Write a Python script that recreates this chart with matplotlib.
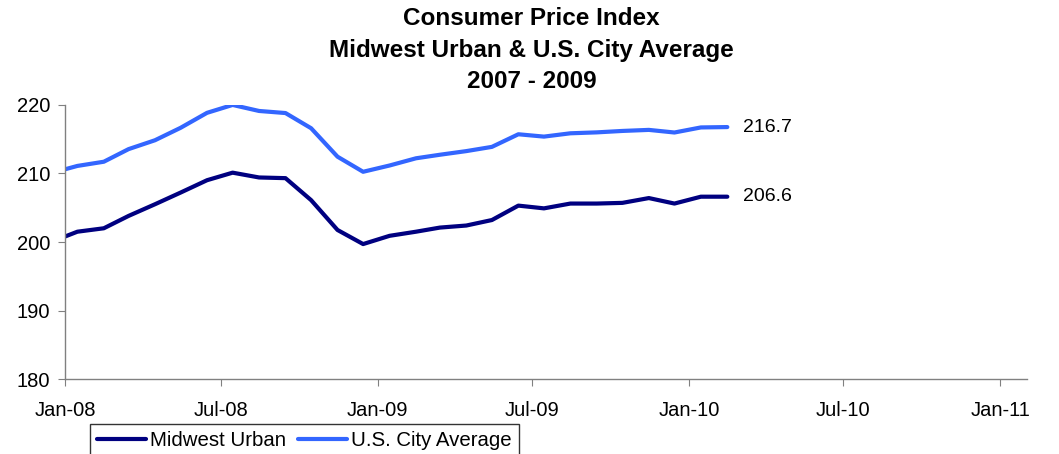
import matplotlib
matplotlib.use("Agg")
import matplotlib.pyplot as plt
import matplotlib.dates as mdates
import pandas as pd

plt.rcParams['font.family'] = ['Liberation Sans', 'DejaVu Sans']

# monthly CPI values, plotted at mid-month
months = ['2007-12',
          '2008-01', '2008-02', '2008-03', '2008-04', '2008-05', '2008-06',
          '2008-07', '2008-08', '2008-09', '2008-10', '2008-11', '2008-12',
          '2009-01', '2009-02', '2009-03', '2009-04', '2009-05', '2009-06',
          '2009-07', '2009-08', '2009-09', '2009-10', '2009-11', '2009-12',
          '2010-01', '2010-02']
midwest = [200.0,
           201.5, 202.0, 203.8, 205.5, 207.2, 209.0,
           210.1, 209.4, 209.3, 206.1, 201.75, 199.7,
           200.9, 201.5, 202.1, 202.4, 203.2, 205.3,
           204.9, 205.6, 205.6, 205.7, 206.4, 205.6,
           206.6, 206.6]
us_city = [210.036,
           211.080, 211.693, 213.528, 214.823, 216.632, 218.815,
           219.964, 219.086, 218.783, 216.573, 212.425, 210.228,
           211.143, 212.193, 212.709, 213.240, 213.856, 215.693,
           215.351, 215.834, 215.969, 216.177, 216.330, 215.949,
           216.687, 216.741]
series_names = ['Midwest Urban', 'U.S. City Average']
end_labels = ['206.6', '216.7']
title_lines = ['Consumer Price Index', 'Midwest Urban & U.S. City Average', '2007 - 2009']

dates = pd.to_datetime(months) + pd.Timedelta(days=14)

fig = plt.figure(figsize=(10.59, 4.54), dpi=100)
ax = fig.add_axes([0.0618, 0.1645, 0.9077, 0.6049])

dark = '#000080'
light = '#3366FF'
ax.plot(dates, midwest, color=dark, lw=3, label=series_names[0], solid_joinstyle='round', solid_capstyle='round')
ax.plot(dates, us_city, color=light, lw=3, label=series_names[1], solid_joinstyle='round', solid_capstyle='round')

# end-of-line value labels
for vals, txt in zip([midwest, us_city], end_labels):
    ax.annotate(txt, xy=(dates[-1], vals[-1]), xytext=(11.5, 0), textcoords='offset points',
                va='center', ha='left', fontsize=14, annotation_clip=False)

ax.set_xlim(pd.Timestamp('2008-01-01'), pd.Timestamp('2011-02-01'))
ax.set_ylim(180, 220)
ax.set_yticks([180, 190, 200, 210, 220])
ax.xaxis.set_major_locator(mdates.MonthLocator(bymonth=[1, 7]))
ax.xaxis.set_major_formatter(mdates.DateFormatter('%b-%y'))

for s in ['top', 'right']:
    ax.spines[s].set_visible(False)
for s in ['left', 'bottom']:
    ax.spines[s].set_color('#808080')
    ax.spines[s].set_linewidth(1.0)
ax.tick_params(axis='both', direction='out', length=5, color='#808080', labelsize=14.5)
ax.tick_params(axis='y', pad=6)
ax.tick_params(axis='x', pad=10.5)

fig.text(0.502, 0.984, '\n'.join(title_lines), ha='center', va='top',
         fontsize=17.5, fontweight='bold', linespacing=1.47)

leg = fig.legend(loc='upper left', bbox_to_anchor=(89.5 / 1059, 1 - 424 / 454), ncol=2,
                 fontsize=14.7, frameon=True, fancybox=False, handlelength=2.4,
                 handletextpad=0.2, columnspacing=0.6, borderpad=0.36, borderaxespad=0)
leg.get_frame().set_edgecolor('black')
leg.get_frame().set_linewidth(1.0)

fig.savefig('out.png', dpi=100)
